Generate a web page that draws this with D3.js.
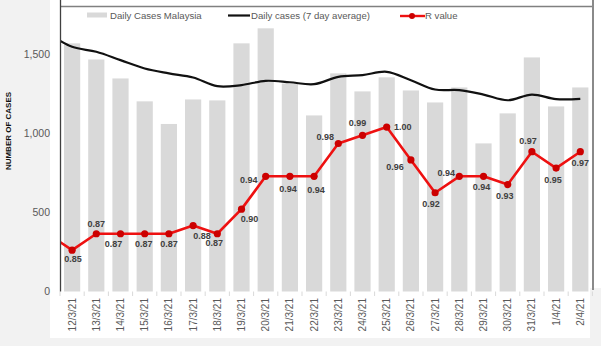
<!DOCTYPE html>
<html><head><meta charset="utf-8">
<script src="https://cdn.jsdelivr.net/npm/d3@7"></script>
<style>html,body{margin:0;padding:0;background:#f2f2f2;}svg{display:block;font-family:"Liberation Sans",Arial,sans-serif;}</style>
</head><body>
<svg id="c" width="601" height="346"></svg>
<script>
const dates = ["12/3/21","13/3/21","14/3/21","15/3/21","16/3/21","17/3/21","18/3/21","19/3/21","20/3/21","21/3/21","22/3/21","23/3/21","24/3/21","25/3/21","26/3/21","27/3/21","28/3/21","29/3/21","30/3/21","31/3/21","1/4/21","2/4/21"];
const dailyCases = [1570,1468,1348,1203,1060,1215,1209,1570,1665,1316,1114,1380,1266,1355,1272,1196,1291,937,1127,1481,1171,1291];
const avg7 = [1548,1517,1464,1411,1380,1354,1299,1306,1333,1324,1312,1358,1369,1390,1337,1278,1274,1246,1210,1246,1217,1219];
const rValue = [0.85,0.87,0.87,0.87,0.87,0.88,0.87,0.90,0.94,0.94,0.94,0.98,0.99,1.00,0.96,0.92,0.94,0.94,0.93,0.97,0.95,0.97];
// value for the day before the first category (line runs off the left edge)
const avg7Prior = 1635;
const rPrior = 0.87;
const yTicks = [0,500,1000,1500];
// label placement offsets (layout only)
const labelOffsets = [[1,9],[0,-10],[-7,10],[-1,10],[0,10],[9,10],[-3,9],[8,10],[-17,3],[-2,12],[2,13],[-13,-7],[-5,-12],[16,0],[-16,7],[-4,11],[-13,-4],[-2,10],[-3,11],[-4,-11],[-3,12],[0,11]];

const svg = d3.select("#c");
// white chart area
svg.append("rect").attr("x",50).attr("y",0).attr("width",551).attr("height",288).attr("fill","#fff");
svg.append("rect").attr("x",50).attr("y",0).attr("width",540).attr("height",338).attr("fill","#fff");

const x = d3.scaleBand().domain(dates).range([60,592.4]).paddingInner(0.33).paddingOuter(0.165);
const y = d3.scaleLinear().domain([0,1800]).range([291.5,7]);
const yR = d3.scaleLinear().domain([0.80,1.15]).range([291.2,4]);
const cx = d => x(d) + x.bandwidth()/2;
const priorX = cx(dates[0]) - x.step();

svg.append("defs").append("clipPath").attr("id","plot").append("rect")
  .attr("x",60).attr("y",0).attr("width",533).attr("height",300);

// bars
svg.append("g").selectAll("rect").data(dates).join("rect")
  .attr("x",d=>x(d)).attr("width",x.bandwidth())
  .attr("y",(d,i)=>y(dailyCases[i])).attr("height",(d,i)=>y(0)-y(dailyCases[i]))
  .attr("fill","#d9d9d9");

// x ticks
svg.append("g").selectAll("line").data(d3.range(dates.length+1)).join("line")
  .attr("x1",i=>60+i*x.step()).attr("x2",i=>60+i*x.step())
  .attr("y1",291.5).attr("y2",296).attr("stroke","#d9d9d9").attr("stroke-width",1);

// 7-day average line
const avgPts = [[priorX,y(avg7Prior)]].concat(dates.map((d,i)=>[cx(d),y(avg7[i])]));
svg.append("path").attr("clip-path","url(#plot)")
  .attr("d",d3.line().curve(d3.curveCatmullRom.alpha(0.5))(avgPts))
  .attr("fill","none").attr("stroke","#111").attr("stroke-width",2.2);

// R line
const rPts = [[priorX,yR(rPrior)]].concat(dates.map((d,i)=>[cx(d),yR(rValue[i])]));
svg.append("path").attr("clip-path","url(#plot)")
  .attr("d",d3.line()(rPts))
  .attr("fill","none").attr("stroke","#ee1111").attr("stroke-width",2.6).attr("stroke-linejoin","round");
svg.append("g").selectAll("circle").data(dates).join("circle")
  .attr("cx",d=>cx(d)).attr("cy",(d,i)=>yR(rValue[i])).attr("r",3.6)
  .attr("fill","#cc0000");
svg.append("g").selectAll("text").data(dates).join("text")
  .attr("x",(d,i)=>cx(d)+labelOffsets[i][0]).attr("y",(d,i)=>yR(rValue[i])+labelOffsets[i][1]+3.2)
  .attr("text-anchor","middle").attr("font-size",9).attr("font-weight","bold").attr("fill","#404040")
  .text((d,i)=>rValue[i].toFixed(2));

// frame lines
svg.append("line").attr("x1",60).attr("x2",592).attr("y1",6.5).attr("y2",6.5).attr("stroke","#808080").attr("stroke-width",1.5);
svg.append("line").attr("x1",593).attr("x2",593).attr("y1",0).attr("y2",290).attr("stroke","#8a8a8a").attr("stroke-width",2);
svg.append("line").attr("x1",60.5).attr("x2",60.5).attr("y1",0).attr("y2",291.5).attr("stroke","#404040").attr("stroke-width",1.3);

// y tick labels
svg.append("g").selectAll("text").data(yTicks).join("text")
  .attr("x",50).attr("y",d=>y(d)+3.8).attr("text-anchor","end")
  .attr("font-size",10.5).attr("fill","#595959").text(d=>d3.format(",")(d));

// y title
svg.append("text").attr("transform","translate(11,131) rotate(-90)").attr("text-anchor","middle")
  .attr("font-size",8).attr("font-weight","bold").attr("fill","#111").text("NUMBER OF CASES");

// x labels
svg.append("g").selectAll("text").data(dates).join("text")
  .attr("transform",d=>`translate(${cx(d)+3.5},298) rotate(-90)`).attr("text-anchor","end")
  .attr("font-size",10).attr("fill","#595959").text(d=>d);

// legend
const lg = svg.append("g");
lg.append("rect").attr("x",87).attr("y",12.5).attr("width",20).attr("height",5).attr("fill","#d9d9d9");
lg.append("text").attr("x",110).attr("y",19).attr("font-size",9.6).attr("fill","#595959").text("Daily Cases Malaysia");
lg.append("line").attr("x1",228).attr("x2",250).attr("y1",15.5).attr("y2",15.5).attr("stroke","#111").attr("stroke-width",2.2);
lg.append("text").attr("x",251).attr("y",19).attr("font-size",9.6).attr("fill","#595959").text("Daily cases (7 day average)");
lg.append("line").attr("x1",400).attr("x2",425).attr("y1",16).attr("y2",16).attr("stroke","#ee1111").attr("stroke-width",2.4);
lg.append("circle").attr("cx",412).attr("cy",16).attr("r",3).attr("fill","#cc0000");
lg.append("text").attr("x",425).attr("y",19).attr("font-size",9.6).attr("fill","#595959").text("R value");
</script>
</body></html>
